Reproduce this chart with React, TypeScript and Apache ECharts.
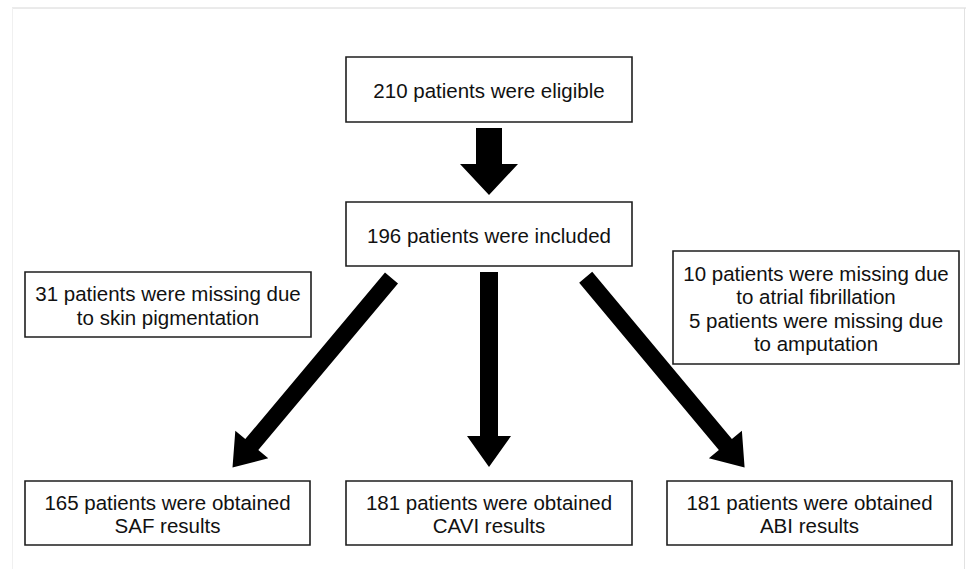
import React, { useEffect, useRef } from "react";
import * as echarts from "echarts";

// ---- content ----
const boxTexts: string[] = [
  "210 patients were eligible",
  "196 patients were included",
  "31 patients were missing due\nto skin pigmentation",
  "10 patients were missing due\nto atrial fibrillation\n5 patients were missing due\nto amputation",
  "165 patients were obtained\nSAF results",
  "181 patients were obtained\nCAVI results",
  "181 patients were obtained\nABI results",
];

// ---- layout (x, y, width, height) ----
const boxRects: [number, number, number, number][] = [
  [346, 57, 286, 65],
  [346, 202, 286, 64],
  [25, 272, 286, 65],
  [673, 251, 286, 113],
  [25, 481, 285, 64],
  [346, 481, 286, 64],
  [667, 481, 285, 64],
];

// arrows: [x1, y1, x2(tip), y2(tip), shaftWidth, headWidth, headLength]
const arrows: [number, number, number, number, number, number, number][] = [
  [489, 128, 489, 195, 26, 58, 31],
  [391.5, 278, 232.5, 467.5, 17, 43, 30],
  [489, 272, 489, 467, 18, 44, 31],
  [585.7, 277.2, 744.6, 467.5, 17, 43, 30],
];

const FONT = "'Liberation Sans', Arial, Helvetica, sans-serif";

function arrowPoints(a: [number, number, number, number, number, number, number]) {
  const [x1, y1, x2, y2, sw, hw, hl] = a;
  const dx = x2 - x1;
  const dy = y2 - y1;
  const len = Math.sqrt(dx * dx + dy * dy);
  const ux = dx / len;
  const uy = dy / len;
  const px = -uy;
  const py = ux;
  const bx = x2 - ux * hl;
  const by = y2 - uy * hl;
  const s = sw / 2;
  const h = hw / 2;
  return [
    [x1 + px * s, y1 + py * s],
    [bx + px * s, by + py * s],
    [bx + px * h, by + py * h],
    [x2, y2],
    [bx - px * h, by - py * h],
    [bx - px * s, by - py * s],
    [x1 - px * s, y1 - py * s],
  ];
}

export default function App() {
  const ref = useRef<HTMLDivElement>(null);
  useEffect(() => {
    document.body.style.margin = "0";
    if (!ref.current) return;
    const chart = echarts.init(ref.current, null, { renderer: "svg" });
    const elements: any[] = [];
    // frame
    elements.push({
      type: "line",
      shape: { x1: 12, y1: 8, x2: 966, y2: 8 },
      style: { stroke: "#d6d6d6", lineWidth: 1 },
    });
    elements.push({
      type: "line",
      shape: { x1: 12.5, y1: 8, x2: 12.5, y2: 569 },
      style: { stroke: "#f0f0f0", lineWidth: 1 },
    });
    elements.push({
      type: "line",
      shape: { x1: 964.5, y1: 8, x2: 964.5, y2: 569 },
      style: { stroke: "#e2e2e2", lineWidth: 1 },
    });
    boxRects.forEach((r, i) => {
      elements.push({
        type: "rect",
        shape: { x: r[0], y: r[1], width: r[2], height: r[3] },
        style: { fill: "#ffffff", stroke: "#1e1e1e", lineWidth: 1.6 },
      });
      elements.push({
        type: "text",
        x: r[0] + r[2] / 2,
        y: r[1] + r[3] / 2 + 1,
        style: {
          text: boxTexts[i],
          fontFamily: FONT,
          fontSize: 20.5,
          lineHeight: 23.5,
          fill: "#111111",
          textAlign: "center",
          textVerticalAlign: "middle",
        },
      });
    });
    arrows.forEach((a) => {
      elements.push({
        type: "polygon",
        shape: { points: arrowPoints(a) },
        style: { fill: "#000000", stroke: "none" },
      });
    });
    chart.setOption({
      animation: false,
      backgroundColor: "#ffffff",
      graphic: { elements },
    });
    return () => chart.dispose();
  }, []);
  return (
    <div
      ref={ref}
      style={{ position: "absolute", left: 0, top: 0, width: 966, height: 569 }}
    />
  );
}
